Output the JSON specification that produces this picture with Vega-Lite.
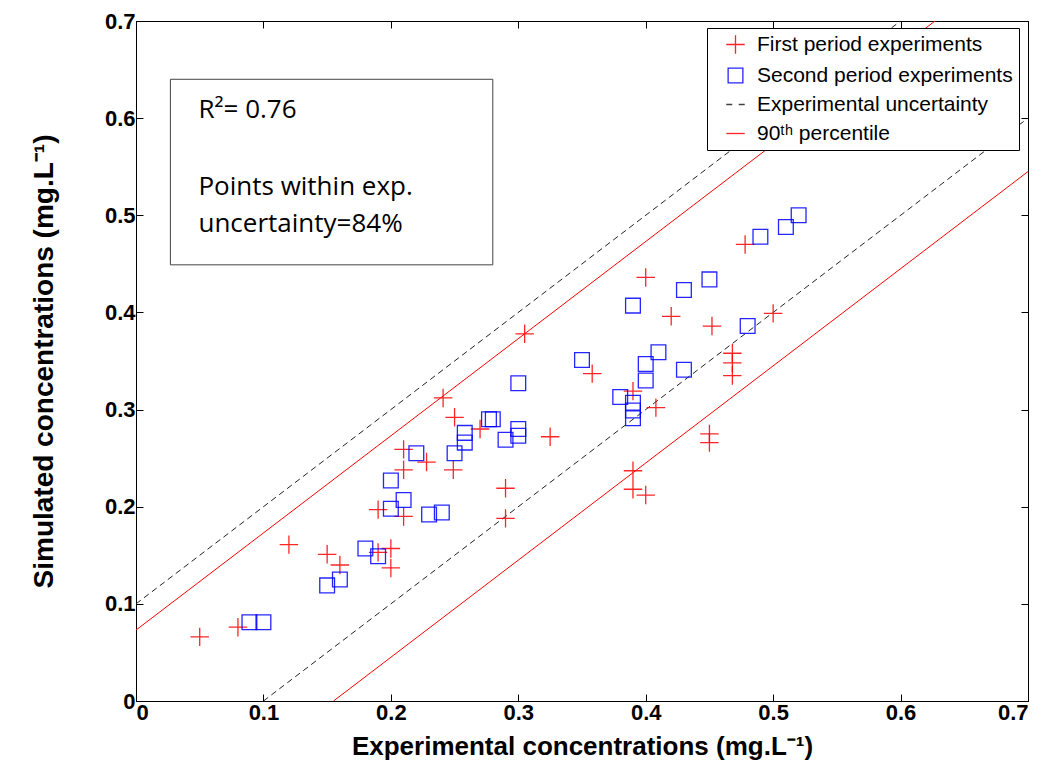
{
  "$schema": "https://vega.github.io/schema/vega-lite/v6.json",
  "width": 892,
  "height": 680,
  "autosize": "none",
  "padding": {"left": 136, "top": 21, "right": 24, "bottom": 66},
  "background": "white",
  "config": {
    "view": {"stroke": "black", "strokeWidth": 1},
    "axis": {
      "grid": false,
      "domainColor": "black",
      "tickColor": "black",
      "tickSize": -7,
      "labelFont": "Liberation Sans",
      "labelFontWeight": "bold",
      "labelFontSize": 22,
      "labelColor": "black",
      "titleFont": "Liberation Sans",
      "titleFontWeight": "bold",
      "titleFontSize": 26,
      "titleColor": "black"
    }
  },
  "datasets": {
    "pts": [
      {"series": "First period experiments", "x": 0.050, "y": 0.066},
      {"series": "First period experiments", "x": 0.080, "y": 0.076},
      {"series": "First period experiments", "x": 0.120, "y": 0.161},
      {"series": "First period experiments", "x": 0.150, "y": 0.151},
      {"series": "First period experiments", "x": 0.160, "y": 0.140},
      {"series": "First period experiments", "x": 0.190, "y": 0.197},
      {"series": "First period experiments", "x": 0.190, "y": 0.153},
      {"series": "First period experiments", "x": 0.200, "y": 0.157},
      {"series": "First period experiments", "x": 0.200, "y": 0.137},
      {"series": "First period experiments", "x": 0.210, "y": 0.259},
      {"series": "First period experiments", "x": 0.210, "y": 0.238},
      {"series": "First period experiments", "x": 0.210, "y": 0.190},
      {"series": "First period experiments", "x": 0.228, "y": 0.246},
      {"series": "First period experiments", "x": 0.241, "y": 0.312},
      {"series": "First period experiments", "x": 0.250, "y": 0.292},
      {"series": "First period experiments", "x": 0.249, "y": 0.238},
      {"series": "First period experiments", "x": 0.270, "y": 0.280},
      {"series": "First period experiments", "x": 0.290, "y": 0.219},
      {"series": "First period experiments", "x": 0.290, "y": 0.188},
      {"series": "First period experiments", "x": 0.305, "y": 0.378},
      {"series": "First period experiments", "x": 0.325, "y": 0.272},
      {"series": "First period experiments", "x": 0.358, "y": 0.337},
      {"series": "First period experiments", "x": 0.390, "y": 0.319},
      {"series": "First period experiments", "x": 0.390, "y": 0.237},
      {"series": "First period experiments", "x": 0.390, "y": 0.218},
      {"series": "First period experiments", "x": 0.400, "y": 0.212},
      {"series": "First period experiments", "x": 0.400, "y": 0.436},
      {"series": "First period experiments", "x": 0.408, "y": 0.302},
      {"series": "First period experiments", "x": 0.420, "y": 0.396},
      {"series": "First period experiments", "x": 0.452, "y": 0.386},
      {"series": "First period experiments", "x": 0.450, "y": 0.275},
      {"series": "First period experiments", "x": 0.450, "y": 0.266},
      {"series": "First period experiments", "x": 0.468, "y": 0.358},
      {"series": "First period experiments", "x": 0.468, "y": 0.348},
      {"series": "First period experiments", "x": 0.468, "y": 0.335},
      {"series": "First period experiments", "x": 0.478, "y": 0.470},
      {"series": "First period experiments", "x": 0.500, "y": 0.399},
      {"series": "Second period experiments", "x": 0.089, "y": 0.081},
      {"series": "Second period experiments", "x": 0.100, "y": 0.081},
      {"series": "Second period experiments", "x": 0.150, "y": 0.119},
      {"series": "Second period experiments", "x": 0.160, "y": 0.125},
      {"series": "Second period experiments", "x": 0.180, "y": 0.157},
      {"series": "Second period experiments", "x": 0.190, "y": 0.149},
      {"series": "Second period experiments", "x": 0.200, "y": 0.227},
      {"series": "Second period experiments", "x": 0.200, "y": 0.198},
      {"series": "Second period experiments", "x": 0.210, "y": 0.207},
      {"series": "Second period experiments", "x": 0.220, "y": 0.255},
      {"series": "Second period experiments", "x": 0.230, "y": 0.192},
      {"series": "Second period experiments", "x": 0.240, "y": 0.194},
      {"series": "Second period experiments", "x": 0.250, "y": 0.255},
      {"series": "Second period experiments", "x": 0.258, "y": 0.276},
      {"series": "Second period experiments", "x": 0.258, "y": 0.266},
      {"series": "Second period experiments", "x": 0.277, "y": 0.290},
      {"series": "Second period experiments", "x": 0.280, "y": 0.290},
      {"series": "Second period experiments", "x": 0.290, "y": 0.269},
      {"series": "Second period experiments", "x": 0.300, "y": 0.327},
      {"series": "Second period experiments", "x": 0.300, "y": 0.280},
      {"series": "Second period experiments", "x": 0.300, "y": 0.273},
      {"series": "Second period experiments", "x": 0.350, "y": 0.351},
      {"series": "Second period experiments", "x": 0.380, "y": 0.313},
      {"series": "Second period experiments", "x": 0.390, "y": 0.407},
      {"series": "Second period experiments", "x": 0.390, "y": 0.307},
      {"series": "Second period experiments", "x": 0.390, "y": 0.299},
      {"series": "Second period experiments", "x": 0.390, "y": 0.291},
      {"series": "Second period experiments", "x": 0.400, "y": 0.347},
      {"series": "Second period experiments", "x": 0.400, "y": 0.330},
      {"series": "Second period experiments", "x": 0.410, "y": 0.359},
      {"series": "Second period experiments", "x": 0.430, "y": 0.423},
      {"series": "Second period experiments", "x": 0.430, "y": 0.341},
      {"series": "Second period experiments", "x": 0.450, "y": 0.434},
      {"series": "Second period experiments", "x": 0.480, "y": 0.386},
      {"series": "Second period experiments", "x": 0.490, "y": 0.478},
      {"series": "Second period experiments", "x": 0.510, "y": 0.488},
      {"series": "Second period experiments", "x": 0.520, "y": 0.500}
    ],
    "dashed": [
      {"seg": "upper", "x": 0.0, "y": 0.1},
      {"seg": "upper", "x": 0.6, "y": 0.7},
      {"seg": "lower", "x": 0.1, "y": 0.0},
      {"seg": "lower", "x": 0.7, "y": 0.6}
    ],
    "solid": [
      {"seg": "upper", "x": 0.0, "y": 0.073},
      {"seg": "upper", "x": 0.627, "y": 0.7},
      {"seg": "lower", "x": 0.155, "y": 0.0},
      {"seg": "lower", "x": 0.7, "y": 0.545}
    ],
    "box": [{"x": 0.027, "x2": 0.28, "y": 0.449, "y2": 0.640}],
    "notes": [
      {"label": "R²= 0.76", "x": 0.049, "y": 0.600},
      {"label": "Points within exp.", "x": 0.049, "y": 0.521},
      {"label": "uncertainty=84%", "x": 0.049, "y": 0.483}
    ]
  },
  "layer": [
    {
      "data": {"name": "box"},
      "mark": {"type": "rect", "fill": "white", "stroke": "#444444", "strokeWidth": 1},
      "encoding": {
        "x": {"field": "x", "type": "quantitative", "scale": {"domain": [0, 0.7], "nice": false}, "axis": null},
        "x2": {"field": "x2"},
        "y": {"field": "y", "type": "quantitative", "scale": {"domain": [0, 0.7], "nice": false}, "axis": null},
        "y2": {"field": "y2"}
      }
    },
    {
      "data": {"name": "notes"},
      "mark": {"type": "text", "align": "left", "baseline": "alphabetic", "font": "Open Sans", "fontSize": 26, "color": "black"},
      "encoding": {
        "x": {"field": "x", "type": "quantitative", "scale": {"domain": [0, 0.7], "nice": false}, "axis": null},
        "y": {"field": "y", "type": "quantitative", "scale": {"domain": [0, 0.7], "nice": false}, "axis": null},
        "text": {"field": "label"}
      }
    },
    {
      "data": {"name": "dashed"},
      "mark": {"type": "line", "color": "#222222", "strokeWidth": 1, "strokeDash": [6, 4], "clip": true},
      "encoding": {
        "x": {"field": "x", "type": "quantitative", "scale": {"domain": [0, 0.7], "nice": false},
              "axis": {"orient": "top", "labels": false, "title": null, "values": [0, 0.1, 0.2, 0.3, 0.4, 0.5, 0.6, 0.7]}},
        "y": {"field": "y", "type": "quantitative", "scale": {"domain": [0, 0.7], "nice": false},
              "axis": {"orient": "right", "labels": false, "title": null, "values": [0, 0.1, 0.2, 0.3, 0.4, 0.5, 0.6, 0.7]}},
        "detail": {"field": "seg"}
      }
    },
    {
      "data": {"name": "solid"},
      "mark": {"type": "line", "color": "#ff0000", "strokeWidth": 1, "clip": true},
      "encoding": {
        "x": {"field": "x", "type": "quantitative", "scale": {"domain": [0, 0.7], "nice": false}, "axis": null},
        "y": {"field": "y", "type": "quantitative", "scale": {"domain": [0, 0.7], "nice": false}, "axis": null},
        "detail": {"field": "seg"}
      }
    },
    {
      "data": {"name": "pts"},
      "mark": {"type": "point", "filled": false, "size": 340, "strokeWidth": 1.3, "opacity": 0.85},
      "encoding": {
        "x": {"field": "x", "type": "quantitative", "scale": {"domain": [0, 0.7], "nice": false},
              "axis": {"title": "Experimental concentrations (mg.L⁻¹)", "values": [0, 0.1, 0.2, 0.3, 0.4, 0.5, 0.6, 0.7], "format": "~g", "labelPadding": 8, "titlePadding": 10, "titleFontSize": 26}},
        "y": {"field": "y", "type": "quantitative", "scale": {"domain": [0, 0.7], "nice": false},
              "axis": {"title": "Simulated concentrations (mg.L⁻¹)", "values": [0, 0.1, 0.2, 0.3, 0.4, 0.5, 0.6, 0.7], "format": "~g", "labelPadding": 8, "titlePadding": 46, "titleFontSize": 28}},
        "color": {
          "field": "series", "type": "nominal",
          "scale": {
            "domain": ["First period experiments", "Second period experiments", "Experimental uncertainty", "90ᵗʰ percentile"],
            "range": ["#ff0000", "#0000ff", "#222222", "#ff0000"]
          },
          "legend": {
            "title": null, "orient": "none", "legendX": 571, "legendY": 7,
            "strokeColor": "black", "fillColor": "white", "padding": 6,
            "labelFont": "Liberation Sans", "labelFontSize": 21, "labelColor": "black", "labelLimit": 0,
            "symbolSize": 340, "symbolStrokeWidth": 1.3, "symbolOffset": 12, "labelOffset": 11,
            "rowPadding": 7
          }
        },
        "shape": {
          "field": "series", "type": "nominal",
          "scale": {
            "domain": ["First period experiments", "Second period experiments", "Experimental uncertainty", "90ᵗʰ percentile"],
            "range": ["M-1,0H1M0,-1V1", "M-0.8,-0.8H0.8V0.8H-0.8Z", "M-1,0H-0.35M0.35,0H1", "M-1,0H1"]
          }
        }
      }
    }
  ],
  "resolve": {"axis": {"x": "independent", "y": "independent"}}
}
